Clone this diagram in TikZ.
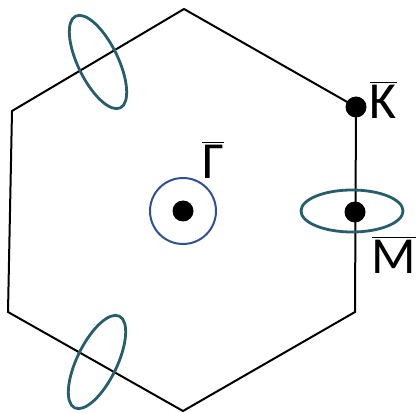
\documentclass[tikz,border=0pt]{standalone}
\usepackage{fontspec}
\setmainfont{Carlito}
\usetikzlibrary{positioning}
\definecolor{pocket}{RGB}{38,94,108}
\definecolor{gamblue}{RGB}{47,82,143}
\newcommand{\barlab}[1]{$\overline{\hbox{#1}}$}

\begin{document}
\begin{tikzpicture}[
    x=0.5pt,y=0.5pt,
    zone/.style={draw=black,line width=1pt,line join=miter},
    dot/.style={circle,fill=black,inner sep=0pt,minimum size=10.5pt},
    fermi/.style={draw=pocket,line width=1.4pt},
    lab/.style={inner sep=0pt,font=\fontsize{26}{30}\selectfont}
  ]
  \useasboundingbox (0,0) rectangle (416,412);

  %% ── Brillouin zone ────────────────────────────────────────────────────────
  \coordinate (vt) at (184,403);
  \coordinate (vk) at (356,305);
  \coordinate (vr) at (355,100);
  \coordinate (vb) at (183,1);
  \coordinate (vl) at (8,100);
  \coordinate (vu) at (12,301);
  \draw[zone] (vt) -- (vk) -- (vr) -- (vb) -- (vl) -- (vu) -- cycle;

  %% ── Pockets ───────────────────────────────────────────────────────────────
  \draw[gamblue,line width=1pt] (183,201) circle[radius=33];
  \draw[fermi] (352,201) ellipse[x radius=51,y radius=21];
  \draw[fermi,rotate around={26:(98,350)}] (98,350) ellipse[x radius=20,y radius=51];
  \draw[fermi,rotate around={-26:(97,50)}] (97,50) ellipse[x radius=20,y radius=51];

  %% ── High-symmetry points ──────────────────────────────────────────────────
  \node[dot] (G) at (183,201) {};
  \node[dot] (K) at (vk) {};
  \node[dot] (M) at (355,200) {};

  \node[lab] (Glab) at (213,252) {\barlab{Γ}};
  \node[lab] (Klab) at (383,312) {\barlab{K}};
  \node[lab] (Mlab) at (394,157) {\barlab{M}};

\end{tikzpicture}
\end{document}
